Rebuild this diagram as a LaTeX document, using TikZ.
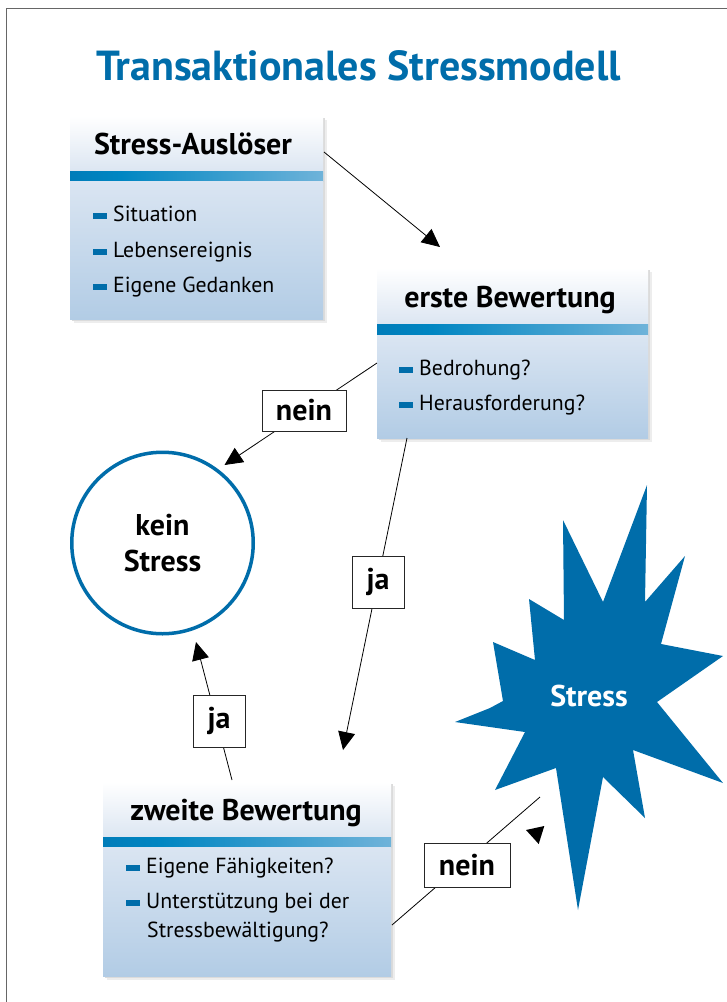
\documentclass[tikz,border=0pt]{standalone}
\usepackage{fontspec}
\setmainfont{PT Sans}
\usetikzlibrary{arrows.meta,calc}
\definecolor{tblue}{HTML}{006DAA}
\definecolor{hdrbot}{HTML}{DCE6F2}
\definecolor{bodytop}{HTML}{DAE5F2}
\definecolor{bodybot}{HTML}{B2CCE5}
\definecolor{bardark}{HTML}{0064A3}
\definecolor{barmid}{HTML}{0086C2}
\definecolor{barlight}{HTML}{B4CFE8}
\pgfdeclarehorizontalshading{barshade}{100bp}{color(0bp)=(bardark); color(35bp)=(barmid); color(100bp)=(barlight)}
\newcommand\bulletitem[4]{%
  \fill[tblue] (#2,#3-2) rectangle ++(14,-6);
  \node[itemtxt] (#1) at (#2+20,#3) {#4};}
\newcommand\panelbg[6]{%
  \fill[black!7] (#1+4,#2+4) rectangle (#3+4,#4+4);
  \fill[black!14] (#1+2,#2+2) rectangle (#3+2,#4+2);
  \shade[top color=white,bottom color=hdrbot] (#1,#2) rectangle (#3,#5);
  \shade[shading=barshade] (#1,#5) rectangle (#3,#6);
  \shade[top color=bodytop,bottom color=bodybot] (#1,#6) rectangle (#3,#4);}
\tikzset{
  titletxt/.style={font=\fontsize{42}{48}\selectfont\bfseries, text=tblue, inner sep=0, anchor=base},
  head/.style={font=\fontsize{30}{36}\selectfont\bfseries, inner sep=0, anchor=base},
  itemtxt/.style={font=\fontsize{21.8}{28}\selectfont, inner sep=0, anchor=base west},
  lbl/.style={draw=black!85, fill=white, line width=0.8pt, font=\fontsize{30}{36}\selectfont\bfseries, inner sep=0},
  conn/.style={line width=0.8pt, -{Triangle[length=18pt,width=17pt]}},
  plainconn/.style={line width=0.8pt},
  panel/.style={inner sep=0, outer sep=0},
}
\begin{document}
\begin{tikzpicture}[x=1pt,y=-1pt]
\useasboundingbox (0,0) rectangle (727,1002);
\fill[white] (0,0) rectangle (727,1002);
\draw[black!60, line width=0.8pt] (6,1002) -- (6,8) -- (727,8);

\node[titletxt] (title) at (358.5,80) {Transaktionales Stressmodell};

% Box 1
\panelbg{70}{116}{323}{319}{171}{181}
\node[panel, minimum width=253pt, minimum height=203pt] (ausl) at (196.5,217.5) {};
\node[head] (auslT) at (193,154) {Stress-Auslöser};
\bulletitem{i1}{93}{221}{Situation}
\bulletitem{i2}{93}{257}{Lebensereignis}
\bulletitem{i3}{93}{292}{Eigene Gedanken}

% Box 2
\panelbg{377}{268}{648}{438}{324}{335}
\node[panel, minimum width=271pt, minimum height=170pt] (erste) at (512.5,353) {};
\node[head] (ersteT) at (510,307) {erste Bewertung};
\bulletitem{j1}{399}{375}{Bedrohung?}
\bulletitem{j2}{399}{410}{Herausforderung?}

% Box 3
\panelbg{103}{782}{391}{976}{837}{847}
\node[panel, minimum width=288pt, minimum height=194pt] (zweite) at (247,879) {};
\node[head] (zweiteT) at (246,820) {zweite Bewertung};
\bulletitem{k1}{126}{873}{Eigene Fähigkeiten?}
\bulletitem{k2}{126}{908}{Unterstützung bei der}
\node[itemtxt] (k3) at (147,937) {Stressbewältigung?};

% kein Stress
\node[circle, draw=tblue, line width=3.5pt, minimum size=181.5pt, inner sep=0, align=center,
      font=\fontsize{30}{36}\selectfont\bfseries] (kein) at (162.5,543) {kein\\Stress};

% Stress starburst
\fill[tblue] (647,485) -- (645,602) -- (685,556) -- (661,644) -- (723,656) -- (657,702)
  -- (723,783) -- (633,750) -- (645,818) -- (603,777) -- (578,910) -- (556,768)
  -- (495,790) -- (525,732) -- (455,722) -- (490,708) -- (503,701) -- (493,642)
  -- (535,660) -- (529,599) -- (564,620) -- (563,520) -- (603,602) -- cycle;
\node[font=\fontsize{30}{36}\selectfont\bfseries, text=white, inner sep=0, anchor=base] (stress) at (589,706) {Stress};

% connectors
\draw[conn] ($(ausl.north east)+(1,36)$) -- ($(erste.north west)+(63,-21)$);
\draw[conn] ($(erste.north west)+(0,95)$) -- ($(kein.center)+(62,-78)$);
\draw[conn] ($(erste.south west)+(30,0)$) -- ($(zweite.north west)+(240,-32)$);
\draw[conn] ($(zweite.north west)+(129,-2)$) -- ($(kein.center)+(33.5,99)$);
\coordinate (stressend) at (540,797);
\draw[plainconn] ($(zweite.north east)+(1,143)$) -- (stressend);
\fill[black] (526,830) -- (544.3,826) -- (538.7,844) -- cycle;

% labels
\node[lbl, minimum width=84pt, minimum height=41pt] (nein1) at (304,410.5) {nein};
\node[lbl, minimum width=52pt, minimum height=52pt] (ja1) at (378,582) {ja};
\node[lbl, minimum width=52pt, minimum height=52pt] (ja2) at (219,721) {ja};
\node[lbl, minimum width=86pt, minimum height=44pt] (nein2) at (467,865) {nein};
\end{tikzpicture}
\end{document}
